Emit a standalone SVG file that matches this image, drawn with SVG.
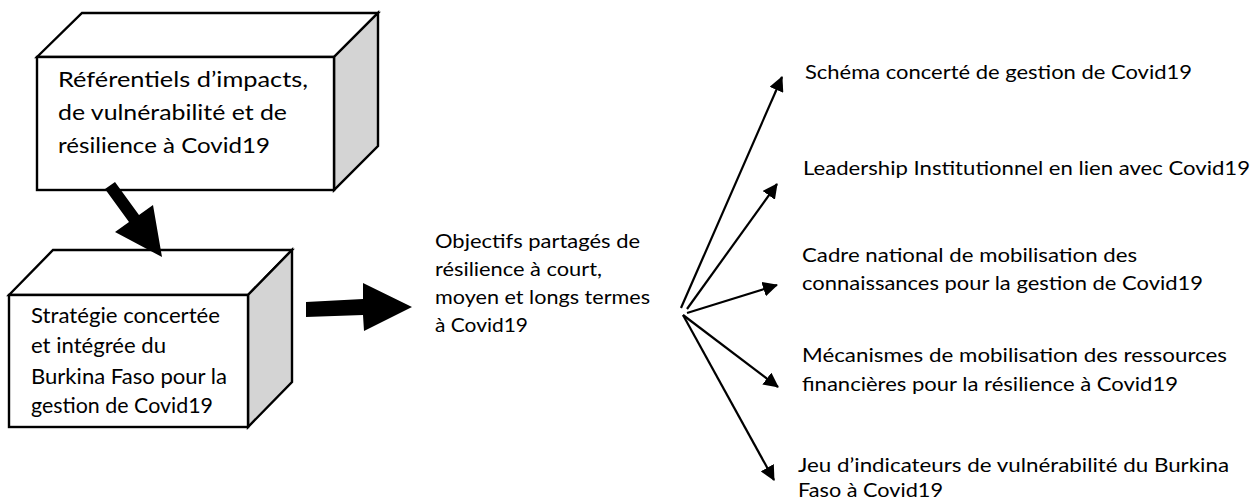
<svg xmlns="http://www.w3.org/2000/svg" width="1252" height="502" viewBox="0 0 1252 502">
<defs>
<style>
.face{fill:#ffffff;stroke:#000;stroke-width:2.4;stroke-linejoin:miter}
.side{fill:#d4d4d4;stroke:#000;stroke-width:2.4;stroke-linejoin:miter}
.big{font-family:Lato,"Liberation Sans",sans-serif;font-size:22px;fill:#000}
.txt{font-family:Lato,"Liberation Sans",sans-serif;font-size:20px;fill:#000}
.fan{stroke:#000;stroke-width:2.2;fill:none;marker-end:url(#ah)}
.block{fill:#000;stroke:none}
</style>
<marker id="ah" viewBox="0 0 15 15" refX="14" refY="7.5" markerWidth="15" markerHeight="15" markerUnits="userSpaceOnUse" orient="auto">
<path d="M0,0 L15,7.5 L0,15 z" fill="#000"/>
</marker>
</defs>
<rect x="0" y="0" width="1252" height="502" fill="#ffffff"/>

<g id="node-referentiels">
<polygon class="face" points="37,57 82,13 378,13 334,57"/>
<polygon class="side" points="334,57 378,13 378,146 334,190"/>
<rect class="face" x="37" y="57" width="297" height="133"/>
<text class="big" x="58" y="87" textLength="250" lengthAdjust="spacingAndGlyphs">Référentiels d’impacts,</text>
<text class="big" x="58" y="120" textLength="229" lengthAdjust="spacingAndGlyphs">de vulnérabilité et de</text>
<text class="big" x="58" y="153" textLength="212" lengthAdjust="spacingAndGlyphs">résilience à Covid19</text>
</g>

<g id="node-strategie">
<polygon class="face" points="9,295 53,250 292,250 248,295"/>
<polygon class="side" points="248,295 292,250 292,382 248,427"/>
<rect class="face" x="9" y="295" width="239" height="132"/>
<text class="big" x="31" y="323" textLength="189" lengthAdjust="spacingAndGlyphs">Stratégie concertée</text>
<text class="big" x="31" y="353" textLength="135" lengthAdjust="spacingAndGlyphs">et intégrée du</text>
<text class="big" x="31" y="384" textLength="196" lengthAdjust="spacingAndGlyphs">Burkina Faso pour la</text>
<text class="big" x="31" y="413" textLength="182" lengthAdjust="spacingAndGlyphs">gestion de Covid19</text>
</g>

<g id="node-objectifs">
<text class="txt" x="435" y="248" textLength="205" lengthAdjust="spacingAndGlyphs">Objectifs partagés de</text>
<text class="txt" x="435" y="276" textLength="167" lengthAdjust="spacingAndGlyphs">résilience à court,</text>
<text class="txt" x="435" y="304" textLength="215" lengthAdjust="spacingAndGlyphs">moyen et longs termes</text>
<text class="txt" x="435" y="332" textLength="93" lengthAdjust="spacingAndGlyphs">à Covid19</text>
</g>

<g id="node-schema">
<text class="txt" x="805" y="79" textLength="387" lengthAdjust="spacingAndGlyphs">Schéma concerté de gestion de Covid19</text>
</g>
<g id="node-leadership">
<text class="txt" x="803" y="175" textLength="447" lengthAdjust="spacingAndGlyphs">Leadership Institutionnel en lien avec Covid19</text>
</g>
<g id="node-cadre">
<text class="txt" x="802" y="262" textLength="335" lengthAdjust="spacingAndGlyphs">Cadre national de mobilisation des</text>
<text class="txt" x="802" y="290" textLength="401" lengthAdjust="spacingAndGlyphs">connaissances pour la gestion de Covid19</text>
</g>
<g id="node-mecanismes">
<text class="txt" x="802" y="362" textLength="425" lengthAdjust="spacingAndGlyphs">Mécanismes de mobilisation des ressources</text>
<text class="txt" x="802" y="391" textLength="376" lengthAdjust="spacingAndGlyphs">financières pour la résilience à Covid19</text>
</g>
<g id="node-jeu">
<text class="txt" x="798" y="472" textLength="431" lengthAdjust="spacingAndGlyphs">Jeu d’indicateurs de vulnérabilité du Burkina</text>
<text class="txt" x="798" y="497" textLength="145" lengthAdjust="spacingAndGlyphs">Faso à Covid19</text>
</g>

<g id="connectors">
<polygon class="block" points="105,189 115,182 139,215 153,205 162,257 115,232 129,222"/>
<polygon class="block" points="306,302 363,299 363,283 412,307 364,331 363,315 306,317"/>
<line class="fan" x1="681" y1="308" x2="782" y2="77"/>
<line class="fan" x1="687" y1="309" x2="777" y2="184"/>
<line class="fan" x1="687" y1="313" x2="777" y2="285"/>
<line class="fan" x1="683" y1="315" x2="778" y2="387"/>
<line class="fan" x1="683" y1="315" x2="774" y2="480"/>
</g>
</svg>
